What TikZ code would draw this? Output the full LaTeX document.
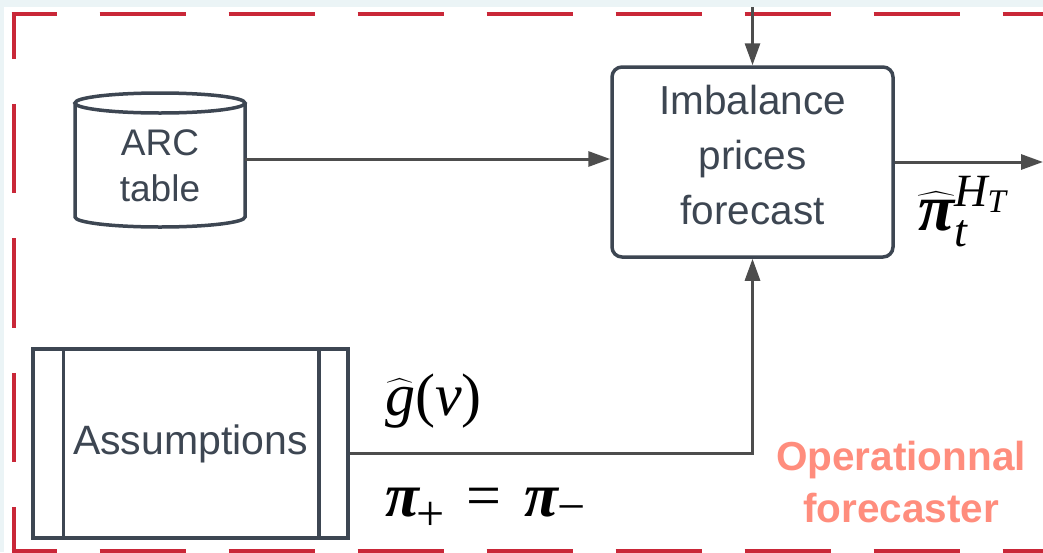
\RequirePackage{fix-cm}
\documentclass[tikz,border=0pt]{standalone}
\usepackage{amsmath}
\usepackage{fontspec}
\setmainfont{Liberation Sans}
\newfontfamily\tnr{Liberation Serif}
\usetikzlibrary{arrows.meta}
\definecolor{boxc}{RGB}{61,70,82}
\definecolor{textc}{RGB}{61,70,82}
\definecolor{arrc}{RGB}{77,77,77}
\definecolor{dashred}{RGB}{201,39,56}
\definecolor{salmon}{RGB}{255,141,125}
\definecolor{bgc}{RGB}{235,244,246}
\newcommand\ti[1]{\text{\tnr\itshape #1}}
\newcommand\tbi[1]{\text{\tnr\bfseries\itshape #1}}
\newcommand\tu[1]{\text{\tnr #1}}
\begin{document}
\begin{tikzpicture}[x=1pt,y=-1pt,
  slate/.style={draw=boxc, line width=3.5pt},
  arr/.style={draw=arrc, line width=3pt, -{Triangle[length=22pt,width=15pt]}},
  txt/.style={text=textc, font=\fontsize{40.5}{55}\selectfont, align=center, inner sep=0pt},
  redd/.style={draw=dashred, line width=4pt},
  mathlab/.style={inner sep=0pt, text=black, anchor=base west},
  subl/.style={inner sep=0pt, text=black, anchor=center, font=\fontsize{50}{50}\selectfont\tnr}]
\useasboundingbox (0,0) rectangle (1043,552);
\fill[bgc] (0,0) rectangle (1043,552);
\fill[white] (4,7) rectangle (1043,552);
% dashed frame
\draw[redd, dash pattern=on 86pt off 43pt, dash phase=41pt] (11.5,14) -- (1043,14);
\draw[redd, dash pattern=on 86pt off 43pt, dash phase=41pt] (11.5,550.5) -- (1043,550.5);
\draw[redd, dash pattern=on 89.5pt off 45pt, dash phase=42.75pt] (13.5,12) -- (13.5,552.5);
% cylinder ARC table
\node[minimum width=170pt, minimum height=134pt, inner sep=0pt] (arc) at (160,159) {};
\draw[slate, fill=white] (75,103) -- (75,217) arc[start angle=180, end angle=360, x radius=85pt, y radius=10pt] -- (245,103);
\draw[slate] (160,103) ellipse[x radius=85pt, y radius=10pt];
\node[txt, font=\fontsize{37}{46}\selectfont] (arctxt) at (160,165.5) {ARC\\table};
% imbalance box
\node[slate, rounded corners=10pt, minimum width=281pt, minimum height=190pt, fill=white] (imb) at (752.5,162) {};
\node[txt] (imbtxt) at (752.5,155.4) {Imbalance\\prices\\forecast};
% assumptions
\node[slate, txt, font=\fontsize{41}{55}\selectfont, minimum width=315pt, minimum height=189pt, fill=white] (assum) at (190.5,443.5) {Assumptions};
\draw[slate] ([xshift=32pt]assum.north west) -- ([xshift=32pt]assum.south west);
\draw[slate] ([xshift=-31pt]assum.north east) -- ([xshift=-31pt]assum.south east);
% connectors
\coordinate (topin) at (752.5,7);
\coordinate (outR) at (1043,162);
\draw[arr] (arc.east) -- (arc.east -| imb.west);
\draw[arr] (topin) -- (imb.north);
\draw[arr] (imb.east) -- (outR);
\draw[arr] ([yshift=-9.5pt]assum.east) -| (imb.south);
% math labels
\node[mathlab, font=\fontsize{66}{66}\selectfont] (pilab) at (918,230) {$\widehat{\tbi{π}}_{\ti{t}}^{\ti{H}_{\ti{T}}}$};
\node[mathlab, font=\fontsize{60}{60}\selectfont] (glab) at (385,415) {$\widehat{\ti{g}}\tu{(}\ti{v}\tu{)}$};
\node[mathlab, font=\fontsize{62}{62}\selectfont\tnr\bfseries\itshape] (pia) at (385,516) {π};
\node[subl] (plus) at (430.5,516) {+};
\node[mathlab, font=\fontsize{62}{62}\selectfont\tnr] (eq) at (466,516) {=};
\node[mathlab, font=\fontsize{62}{62}\selectfont\tnr\bfseries\itshape] (pib) at (524,516) {π};
\node[subl] (minus) at (571.5,515) {−};
% title
\node[font=\bfseries\fontsize{40.5}{52}\selectfont, text=salmon, align=center, inner sep=0pt] (opf) at (901,482.4) {Operationnal\\forecaster};
\end{tikzpicture}
\end{document}
